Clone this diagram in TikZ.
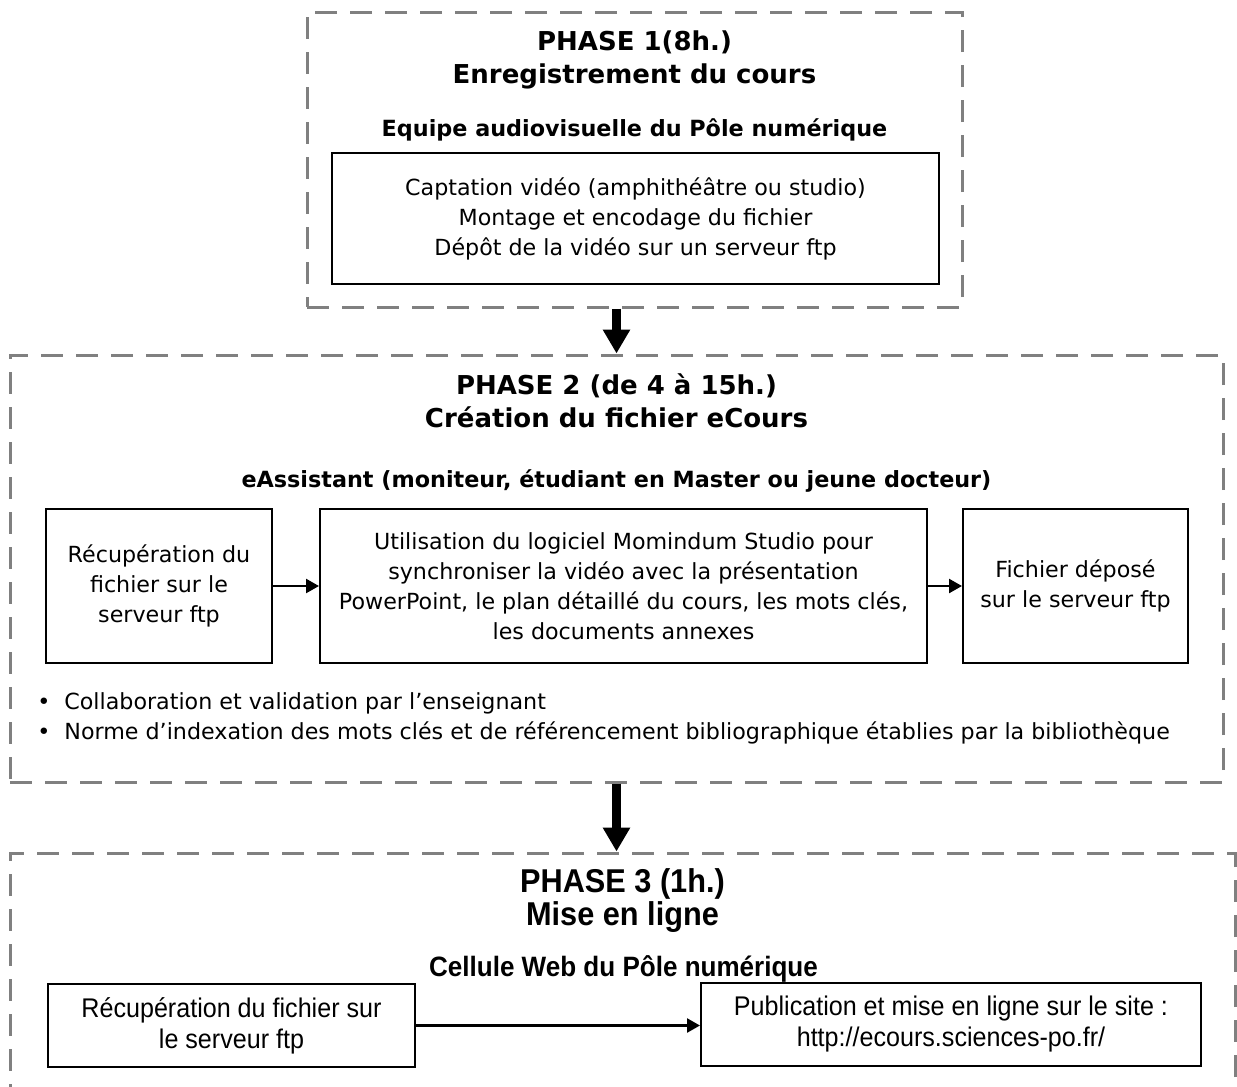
\documentclass[tikz,border=0pt]{standalone}
\usepackage{fontspec}
\setmainfont{DejaVu Sans}
\newfontfamily\narrowfont[FakeStretch=0.93]{Liberation Sans}
\usetikzlibrary{arrows.meta}

\tikzset{
  phaseframe/.style={draw={rgb,255:red,128;green,128;blue,128}, line width=1.5pt,
    dash pattern=on 11pt off 6.5pt, rectangle, inner sep=0pt},
  taskbox/.style={draw, line width=1pt, rectangle, align=center, inner sep=0pt,
    font=\fontsize{11.1}{15}\selectfont},
  webbox/.style={taskbox, font=\narrowfont\fontsize{13.5}{15.5}\selectfont},
  phasetitle/.style={align=center, inner sep=0pt, font=\bfseries\fontsize{13}{16.5}\selectfont},
  teamlabel/.style={inner sep=0pt, font=\bfseries\fontsize{11.15}{13}\selectfont},
  notetext/.style={anchor=west, inner sep=0pt, font=\fontsize{11.1}{15}\selectfont},
  smallarrow/.style={line width=1.2pt, -{Triangle[length=6.5pt,width=7pt]}},
  bigarrow/.style={line width=4.5pt, -{Triangle[length=12pt,width=13pt]}}
}

\begin{document}
\begin{tikzpicture}[x=0.5pt,y=-0.5pt]
\clip (0,0) rectangle (1237,1087);

% Phase frames
\node[phaseframe, minimum width=327.5pt, minimum height=147.5pt] (frame1) at (634.5,159.5) {};
\node[phaseframe, minimum width=606.5pt, minimum height=213.5pt] (frame2) at (616.5,568.5) {};
\node[phaseframe, minimum width=612.5pt, minimum height=147pt] (frame3) at (622.5,1000) {};

% Phase 1
\node[phasetitle] (title1) at (634.5,60) {PHASE 1(8h.)\\Enregistrement du cours};
\node[teamlabel] (team1) at (634.5,130) {Equipe audiovisuelle du Pôle numérique};
\node[taskbox, minimum width=303.5pt, minimum height=65.5pt] (capture) at (635.5,218.5)
  {Captation vidéo (amphithéâtre ou studio)\\Montage et encodage du fichier\\Dépôt de la vidéo sur un serveur ftp};

% Phase 2
\node[phasetitle] (title2) at (616.5,401) {PHASE 2 (de 4 à 15h.)\\Création du fichier eCours};
\node[teamlabel] (team2) at (616.5,481) {eAssistant (moniteur, étudiant en Master ou jeune docteur)};
\node[taskbox, minimum width=113pt, minimum height=77pt] (fetch) at (159,586)
  {Récupération du\\fichier sur le\\serveur ftp};
\node[taskbox, minimum width=303.5pt, minimum height=77pt] (sync) at (623.5,586)
  {Utilisation du logiciel Momindum Studio pour\\synchroniser la vidéo avec la présentation\\PowerPoint, le plan détaillé du cours, les mots clés,\\les documents annexes};
\node[taskbox, minimum width=112.5pt, minimum height=77pt] (upload) at (1075.5,586)
  {Fichier déposé\\sur le serveur ftp};
\node[notetext] (note1) at (37,703)
  {\makebox[13.5pt][l]{\textbullet}Collaboration et validation par l’enseignant};
\node[notetext] (note2) at (37,733)
  {\makebox[13.5pt][l]{\textbullet}Norme d’indexation des mots clés et de référencement bibliographique établies par la bibliothèque};

% Phase 3
\node[phasetitle, font=\narrowfont\bfseries\fontsize{16.5}{16.5}\selectfont] (title3) at (622.5,900.5) {PHASE 3 (1h.)\\Mise en ligne};
\node[teamlabel, font=\narrowfont\bfseries\fontsize{14}{14}\selectfont] (team3) at (623.5,969) {Cellule Web du Pôle numérique};
\node[webbox, minimum width=183.5pt, minimum height=41.5pt] (refetch) at (231.5,1025.5)
  {Récupération du fichier sur\\le serveur ftp};
\node[webbox, minimum width=250pt, minimum height=41.5pt] (publish) at (951,1024.5)
  {Publication et mise en ligne sur le site :\\http://ecours.sciences-po.fr/};

% Arrows
\draw[bigarrow] (frame1.south -| frame2.north) -- (frame2.north);
\draw[bigarrow] (frame2.south) -- (frame2.south |- frame3.north);
\draw[smallarrow] (fetch.east) -- (fetch.east -| sync.west);
\draw[smallarrow] (sync.east) -- (sync.east -| upload.west);
\draw[smallarrow] (refetch.east) -- (refetch.east -| publish.west);

\end{tikzpicture}
\end{document}
